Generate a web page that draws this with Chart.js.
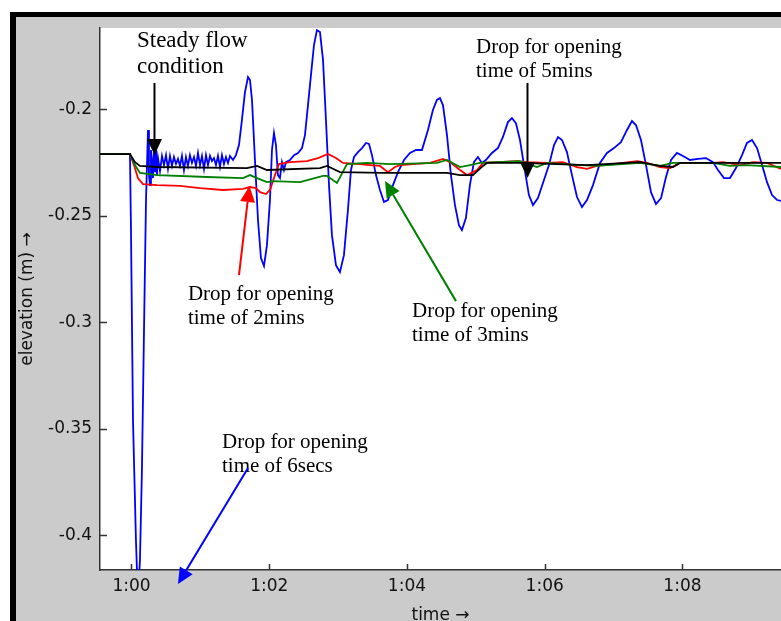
<!DOCTYPE html>
<html lang="en">
<head>
<meta charset="UTF-8">
<title>elevation vs time</title>
<script src="https://cdn.jsdelivr.net/npm/chart.js"></script>
<style>
  body { margin: 0; background: #fff; }
</style>
</head>
<body>
<canvas id="myChart" width="781" height="621"></canvas>
<script>
// time in minutes (60 = 1:00), elevation in m
const drop6secs = [
  [59.543, -0.2210], [59.978, -0.2210], [59.993, -0.2567], [60.022, -0.3460], [60.065, -0.4023],
  [60.094, -0.4305], [60.123, -0.4117], [60.152, -0.3695], [60.182, -0.3037], [60.211, -0.2426],
  [60.240, -0.2097], [60.254, -0.2309], [60.269, -0.2356], [60.283, -0.2191], [60.298, -0.2238],
  [60.312, -0.2323], [60.327, -0.2201], [60.341, -0.2295], [60.356, -0.2191], [60.370, -0.2309],
  [60.385, -0.2229], [60.414, -0.2290], [60.443, -0.2219], [60.472, -0.2262], [60.501, -0.2215],
  [60.530, -0.2280], [60.559, -0.2219], [60.588, -0.2266], [60.617, -0.2224], [60.646, -0.2257],
  [60.675, -0.2233], [60.704, -0.2266], [60.733, -0.2219], [60.762, -0.2285], [60.791, -0.2224],
  [60.820, -0.2266], [60.849, -0.2215], [60.878, -0.2252], [60.908, -0.2224], [60.937, -0.2266],
  [60.966, -0.2205], [60.995, -0.2262], [61.024, -0.2219], [61.053, -0.2280], [61.082, -0.2215],
  [61.111, -0.2262], [61.140, -0.2219], [61.169, -0.2243], [61.198, -0.2229], [61.227, -0.2262],
  [61.256, -0.2219], [61.285, -0.2271], [61.314, -0.2215], [61.343, -0.2257], [61.372, -0.2224],
  [61.401, -0.2252], [61.430, -0.2219], [61.474, -0.2238], [61.517, -0.2215], [61.561, -0.2168],
  [61.604, -0.2050], [61.648, -0.1919], [61.692, -0.1848], [61.721, -0.1862], [61.750, -0.1956],
  [61.793, -0.2238], [61.837, -0.2520], [61.880, -0.2699], [61.924, -0.2736], [61.967, -0.2638],
  [62.011, -0.2426], [62.040, -0.2191], [62.069, -0.2111], [62.098, -0.2168], [62.127, -0.2309],
  [62.156, -0.2323], [62.185, -0.2248], [62.214, -0.2285], [62.243, -0.2248], [62.301, -0.2238],
  [62.360, -0.2215], [62.418, -0.2205], [62.476, -0.2182], [62.519, -0.2121], [62.563, -0.1980],
  [62.606, -0.1839], [62.650, -0.1698], [62.693, -0.1628], [62.737, -0.1637], [62.781, -0.1768],
  [62.824, -0.2050], [62.868, -0.2356], [62.911, -0.2591], [62.969, -0.2732], [63.027, -0.2765],
  [63.085, -0.2685], [63.143, -0.2473], [63.187, -0.2285], [63.231, -0.2224], [63.289, -0.2201],
  [63.347, -0.2182], [63.405, -0.2158], [63.449, -0.2163], [63.492, -0.2215], [63.550, -0.2309],
  [63.608, -0.2379], [63.666, -0.2435], [63.724, -0.2426], [63.797, -0.2356], [63.870, -0.2295],
  [63.957, -0.2238], [64.044, -0.2205], [64.131, -0.2191], [64.218, -0.2191], [64.305, -0.2097],
  [64.377, -0.2003], [64.435, -0.1956], [64.479, -0.1947], [64.523, -0.1980], [64.581, -0.2121],
  [64.639, -0.2309], [64.697, -0.2450], [64.755, -0.2544], [64.798, -0.2567], [64.856, -0.2511],
  [64.914, -0.2356], [64.972, -0.2248], [65.030, -0.2224], [65.088, -0.2252], [65.146, -0.2238],
  [65.234, -0.2205], [65.321, -0.2182], [65.394, -0.2130], [65.466, -0.2060], [65.524, -0.2041],
  [65.582, -0.2065], [65.641, -0.2144], [65.699, -0.2262], [65.771, -0.2403], [65.830, -0.2450],
  [65.902, -0.2417], [65.975, -0.2346], [66.062, -0.2262], [66.135, -0.2168], [66.193, -0.2130],
  [66.251, -0.2144], [66.323, -0.2201], [66.396, -0.2309], [66.469, -0.2412], [66.541, -0.2459],
  [66.614, -0.2426], [66.701, -0.2356], [66.803, -0.2252], [66.904, -0.2205], [67.006, -0.2182],
  [67.107, -0.2154], [67.195, -0.2097], [67.267, -0.2055], [67.325, -0.2074], [67.398, -0.2144],
  [67.471, -0.2262], [67.543, -0.2389], [67.616, -0.2445], [67.689, -0.2417], [67.761, -0.2318],
  [67.834, -0.2238], [67.921, -0.2205], [68.008, -0.2219], [68.110, -0.2238], [68.226, -0.2233],
  [68.342, -0.2229], [68.444, -0.2248], [68.516, -0.2285], [68.603, -0.2323], [68.690, -0.2323],
  [68.777, -0.2276], [68.865, -0.2215], [68.937, -0.2158], [69.010, -0.2144], [69.083, -0.2182],
  [69.156, -0.2262], [69.228, -0.2342], [69.301, -0.2403], [69.374, -0.2426], [69.446, -0.2431]
];
const drop2mins = [
  [59.543, -0.2210], [59.978, -0.2210], [60.036, -0.2262], [60.094, -0.2323], [60.167, -0.2351],
  [60.370, -0.2356], [60.704, -0.2360], [60.995, -0.2370], [61.329, -0.2379], [61.619, -0.2374],
  [61.721, -0.2365], [61.808, -0.2370], [61.866, -0.2389], [61.953, -0.2398], [62.011, -0.2379],
  [62.083, -0.2309], [62.141, -0.2257], [62.301, -0.2248], [62.548, -0.2243], [62.708, -0.2229],
  [62.853, -0.2210], [62.969, -0.2229], [63.071, -0.2252], [63.318, -0.2257], [63.463, -0.2262],
  [63.608, -0.2266], [63.724, -0.2295], [63.826, -0.2271], [63.899, -0.2262], [64.334, -0.2252],
  [64.523, -0.2233], [64.625, -0.2248], [64.770, -0.2285], [64.872, -0.2309], [65.017, -0.2285],
  [65.104, -0.2252], [65.598, -0.2243], [65.743, -0.2248], [66.033, -0.2252], [66.265, -0.2248],
  [66.469, -0.2271], [66.614, -0.2280], [66.759, -0.2266], [66.991, -0.2257], [67.340, -0.2243],
  [67.485, -0.2252], [67.674, -0.2271], [67.819, -0.2276], [67.964, -0.2252], [68.211, -0.2252],
  [68.444, -0.2252], [68.589, -0.2248], [68.836, -0.2262], [69.025, -0.2248], [69.228, -0.2252],
  [69.431, -0.2280]
];
const drop3mins = [
  [59.543, -0.2210], [59.978, -0.2210], [60.051, -0.2262], [60.123, -0.2299], [60.370, -0.2309],
  [61.096, -0.2318], [61.619, -0.2323], [61.721, -0.2309], [61.822, -0.2323], [61.967, -0.2342],
  [62.055, -0.2337], [62.447, -0.2342], [62.781, -0.2313], [62.839, -0.2313], [62.984, -0.2346],
  [63.129, -0.2257], [63.420, -0.2252], [63.753, -0.2257], [64.436, -0.2252], [64.581, -0.2238],
  [64.770, -0.2271], [64.914, -0.2262], [65.059, -0.2252], [65.640, -0.2243], [65.887, -0.2271],
  [66.033, -0.2252], [66.512, -0.2262], [66.759, -0.2266], [67.383, -0.2252], [67.674, -0.2266],
  [67.863, -0.2252], [68.444, -0.2252], [68.690, -0.2266], [68.937, -0.2262], [69.431, -0.2271]
];
const drop5mins = [
  [59.543, -0.2210], [59.978, -0.2210], [60.051, -0.2248], [60.123, -0.2266], [60.370, -0.2271],
  [61.677, -0.2276], [61.822, -0.2266], [61.967, -0.2285], [62.737, -0.2276], [62.839, -0.2266],
  [63.027, -0.2295], [63.652, -0.2299], [64.581, -0.2299], [64.770, -0.2309], [64.958, -0.2309],
  [65.104, -0.2266], [65.162, -0.2252], [65.641, -0.2252], [66.614, -0.2262], [67.383, -0.2248],
  [67.674, -0.2266], [67.863, -0.2271], [67.964, -0.2252], [69.431, -0.2252]
];

const timeRange = [59.543, 69.431];
const elevRange = [-0.4164, -0.1618];

// text labels and arrows, placed in data coordinates
const notes = [
  { lines: ['Steady flow', 'condition'], at: [60.080, -0.1707], size: 23, gap: 26 },
  { lines: ['Drop for opening', 'time of 5mins'], at: [65.002, -0.1736], size: 21, gap: 24 },
  { lines: ['Drop for opening', 'time of 2mins'], at: [60.820, -0.2896], size: 21, gap: 24 },
  { lines: ['Drop for opening', 'time of 3mins'], at: [64.073, -0.2976], size: 21, gap: 24 },
  { lines: ['Drop for opening', 'time of 6secs'], at: [61.314, -0.3591], size: 21, gap: 24 }
];
const arrows = [
  { from: [60.334, -0.1876], to: [60.334, -0.2215], color: '#000000' },
  { from: [65.750, -0.1876], to: [65.750, -0.2323], color: '#000000' },
  { from: [61.561, -0.2779], to: [61.713, -0.2360], color: '#ff0000' },
  { from: [64.712, -0.2901], to: [63.681, -0.2337], color: '#008000' },
  { from: [61.692, -0.3685], to: [60.675, -0.4230], color: '#0000ff' }
];

const frame = {
  id: 'frame',
  beforeDraw(chart) {
    const { ctx, width, height, chartArea: a } = chart;
    ctx.save();
    ctx.fillStyle = '#ffffff';
    ctx.fillRect(0, 0, width, height);
    ctx.fillStyle = '#000000';
    ctx.fillRect(10, 12, width - 10, height - 12);
    ctx.fillStyle = '#cbcbcb';
    ctx.fillRect(16, 17, width - 16, height - 17);
    ctx.fillStyle = '#ffffff';
    ctx.fillRect(a.left, a.top, a.right - a.left, a.bottom - a.top);
    ctx.restore();
  },
  afterDraw(chart) {
    const { ctx, chartArea: a } = chart;
    const xs = chart.scales.x, ys = chart.scales.y;
    ctx.save();
    // inward ticks like matlab
    ctx.strokeStyle = '#333333';
    ctx.lineWidth = 1.5;
    ctx.beginPath();
    xs.ticks.forEach(t => {
      const px = Math.round(xs.getPixelForValue(t.value)) + 0.5;
      ctx.moveTo(px, a.bottom);
      ctx.lineTo(px, a.bottom - 6);
    });
    ys.ticks.forEach(t => {
      const py = Math.round(ys.getPixelForValue(t.value)) + 0.5;
      ctx.moveTo(a.left, py);
      ctx.lineTo(a.left + 7, py);
    });
    ctx.stroke();

    // text
    ctx.fillStyle = '#000000';
    ctx.textBaseline = 'alphabetic';
    ctx.textAlign = 'left';
    notes.forEach(n => {
      ctx.font = n.size + 'px "Liberation Serif", "Times New Roman", serif';
      const px = xs.getPixelForValue(n.at[0]);
      const py = ys.getPixelForValue(n.at[1]);
      n.lines.forEach((s, i) => ctx.fillText(s, px, py + i * n.gap));
    });

    // arrows
    arrows.forEach(ar => {
      const x0 = xs.getPixelForValue(ar.from[0]), y0 = ys.getPixelForValue(ar.from[1]);
      const x1 = xs.getPixelForValue(ar.to[0]), y1 = ys.getPixelForValue(ar.to[1]);
      const ang = Math.atan2(y1 - y0, x1 - x0);
      const headLen = 16, headW = 7.5;
      const bx = x1 - headLen * Math.cos(ang), by = y1 - headLen * Math.sin(ang);
      ctx.strokeStyle = ar.color;
      ctx.fillStyle = ar.color;
      ctx.lineWidth = 2;
      ctx.beginPath();
      ctx.moveTo(x0, y0);
      ctx.lineTo(bx, by);
      ctx.stroke();
      ctx.beginPath();
      ctx.moveTo(x1, y1);
      ctx.lineTo(bx + headW * Math.sin(ang), by - headW * Math.cos(ang));
      ctx.lineTo(bx - headW * Math.sin(ang), by + headW * Math.cos(ang));
      ctx.closePath();
      ctx.fill();
    });
    ctx.restore();
  }
};

function series(data, color) {
  return {
    data: data,
    borderColor: color,
    borderWidth: 1.8,
    pointRadius: 0,
    tension: 0,
    fill: false,
    clip: 0
  };
}

const tickFont = { family: '"DejaVu Sans", sans-serif', size: 17 };

new Chart(document.getElementById('myChart'), {
  type: 'line',
  data: {
    datasets: [
      series(drop5mins, '#000000'),
      series(drop3mins, '#008000'),
      series(drop2mins, '#ff0000'),
      series(drop6secs, '#0000ff')
    ]
  },
  options: {
    responsive: false,
    devicePixelRatio: 1,
    animation: false,
    layout: { padding: { left: 16, top: 28, right: 0, bottom: 0 } },
    plugins: { legend: { display: false }, tooltip: { enabled: false } },
    scales: {
      x: {
        type: 'linear',
        min: timeRange[0],
        max: timeRange[1],
        grid: { display: false, drawTicks: false },
        border: { display: true, color: '#333333', width: 1.5 },
        ticks: {
          stepSize: 2,
          includeBounds: false,
          maxRotation: 0,
          padding: 6,
          color: '#111111',
          font: tickFont,
          callback: v => Math.floor(v / 60) + ':' + String(Math.round(v % 60)).padStart(2, '0')
        },
        title: {
          display: true,
          text: 'time \u2192',
          color: '#111111',
          font: tickFont,
          padding: { top: 0, bottom: -5 }
        },
        afterFit(scale) { scale.height = 51; }
      },
      y: {
        min: elevRange[0],
        max: elevRange[1],
        grid: { display: false, drawTicks: false },
        border: { display: true, color: '#333333', width: 1.5 },
        ticks: {
          stepSize: 0.05,
          includeBounds: false,
          padding: 8,
          color: '#111111',
          font: tickFont,
          callback: v => String(+v.toFixed(2))
        },
        title: {
          display: true,
          text: 'elevation (m) \u2192',
          color: '#111111',
          font: tickFont,
          padding: { top: 1, bottom: 0 }
        },
        afterFit(scale) { scale.width = 84; }
      }
    }
  },
  plugins: [frame]
});
</script>
</body>
</html>
